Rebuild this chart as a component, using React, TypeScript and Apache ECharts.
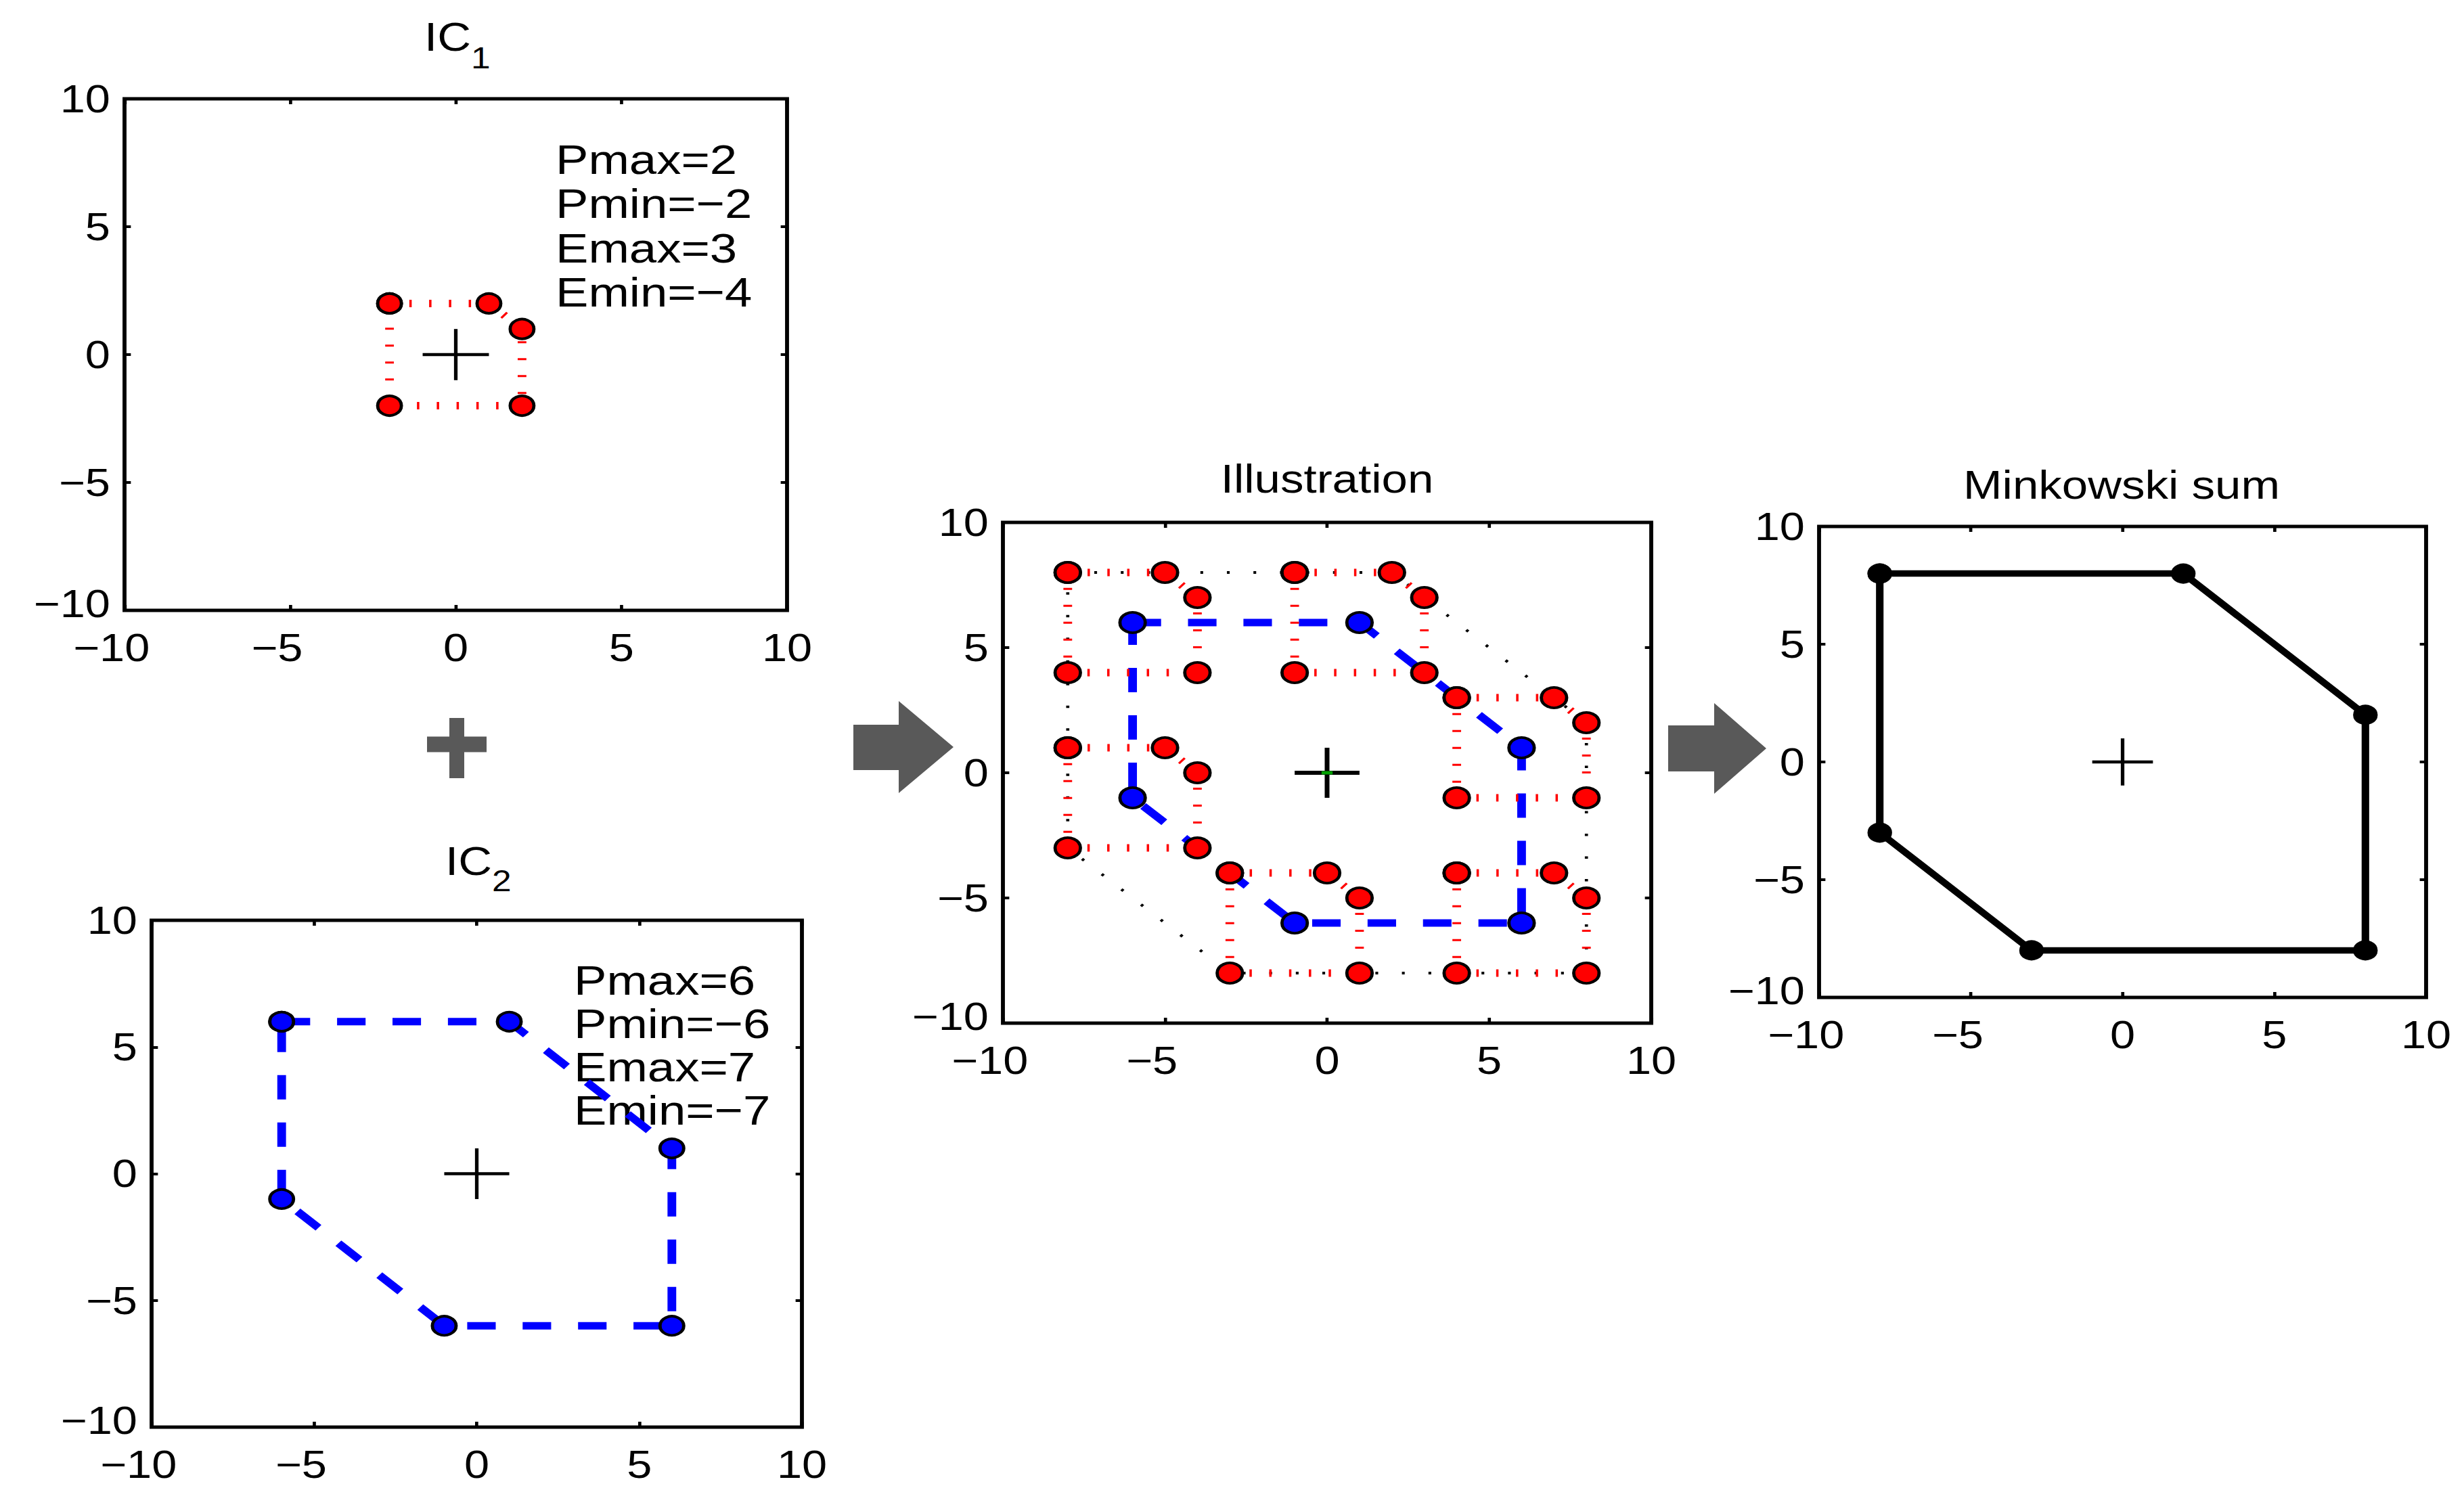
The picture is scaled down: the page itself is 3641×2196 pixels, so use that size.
import React, { useEffect, useRef } from "react";
import * as echarts from "echarts";

// ---------- data ----------
const AXIS_MIN = -10;
const AXIS_MAX = 10;
const AXIS_STEP = 5;

const IC1 = [[-2, 2], [1, 2], [2, 1], [2, -2], [-2, -2], [-2, 2]];
const IC2 = [[-6, 6], [1, 6], [6, 1], [6, -6], [-1, -6], [-6, -1], [-6, 6]];

const SHIFT_A = [[-8, 8], [-5, 8], [-4, 7], [-4, 4], [-8, 4], [-8, 8]];
const SHIFT_B = [[-1, 8], [2, 8], [3, 7], [3, 4], [-1, 4], [-1, 8]];
const SHIFT_C = [[4, 3], [7, 3], [8, 2], [8, -1], [4, -1], [4, 3]];
const SHIFT_D = [[4, -4], [7, -4], [8, -5], [8, -8], [4, -8], [4, -4]];
const SHIFT_E = [[-3, -4], [0, -4], [1, -5], [1, -8], [-3, -8], [-3, -4]];
const SHIFT_F = [[-8, 1], [-5, 1], [-4, 0], [-4, -3], [-8, -3], [-8, 1]];

const MINKOWSKI = [[-8, 8], [2, 8], [8, 2], [8, -8], [-3, -8], [-8, -3], [-8, 8]];

const CROSS_H = [[-1, 0], [1, 0]];
const CROSS_V = [[0, -1], [0, 1]];
const CENTER = [[0, 0]];

const TITLE_MAIN = ["IC", "IC", "Illustration", "Minkowski sum"];
const TITLE_SUB = ["1", "2"];
const IC1_TEXT = ["Pmax=2", "Pmin=−2", "Emax=3", "Emin=−4"];
const IC2_TEXT = ["Pmax=6", "Pmin=−6", "Emax=7", "Emin=−7"];

// ---------- layout (reference pixels) ----------
const W = 3112;
const H = 2196;
const S = 3641 / W; // horizontal stretch of the reference figure
const ux = (x: number) => x / S;
const FONT = "Liberation Sans";
const LH = 44;
const Y_MARGIN = 18;

const GRIDS = [
  { left: 184, right: 1163, top: 146, bottom: 902 },
  { left: 224, right: 1185, top: 1360, bottom: 2109 },
  { left: 1482, right: 2440, top: 772, bottom: 1512 },
  { left: 2688, right: 3585, top: 778, bottom: 1474 },
];

const fmtMinus = (v: number) => (v < 0 ? "−" + -v : String(v));

function buildAxes() {
  const xAxis: any[] = [];
  const yAxis: any[] = [];
  GRIDS.forEach((_, gi) => {
    const common = {
      type: "value",
      gridIndex: gi,
      min: AXIS_MIN,
      max: AXIS_MAX,
      interval: AXIS_STEP,
      splitLine: { show: false },
      axisLine: { show: false, onZero: false },
      axisTick: { show: true, inside: true, length: 8, lineStyle: { color: "#000", width: 4 } },
    };
    const tok = { fontSize: 57, fontFamily: FONT, color: "#000", lineHeight: LH };
    xAxis.push({
      ...common,
      position: "bottom",
      axisLabel: {
        show: true,
        margin: 33,
        color: "#000",
        fontSize: 57,
        lineHeight: LH,
        fontFamily: FONT,
        showMinLabel: true,
        showMaxLabel: true,
        formatter: (v: number) => (v < 0 ? `{m|−}{d|${-v}}{s| }` : `{d|${v}}`),
        rich: {
          m: tok,
          d: tok,
          s: { ...tok, width: 33 },
        },
      },
    });
    xAxis.push({ ...common, position: "top", axisLabel: { show: false } });
    yAxis.push({
      ...common,
      position: "left",
      axisLabel: {
        show: true,
        margin: Y_MARGIN,
        color: "#000",
        fontSize: 57,
        lineHeight: LH,
        fontFamily: FONT,
        showMinLabel: false,
        showMaxLabel: true,
        formatter: fmtMinus,
      },
    });
    yAxis.push({ ...common, position: "right", axisLabel: { show: false } });
  });
  return { xAxis, yAxis };
}

function poly(gi: number, data: number[][], line: any, marker: any, z: number) {
  return {
    type: "line",
    xAxisIndex: gi * 2,
    yAxisIndex: gi * 2,
    data,
    z,
    silent: true,
    clip: false,
    lineStyle: line,
    symbol: marker ? "circle" : "none",
    showSymbol: !!marker,
    symbolSize: marker ? marker.size : 0,
    itemStyle: marker
      ? { color: marker.color, borderColor: "#000", borderWidth: 4, opacity: 1 }
      : undefined,
  };
}

function cross(gi: number, width: number) {
  const ls = { color: "#000", width, type: "solid" };
  return [poly(gi, CROSS_H, ls, null, 6), poly(gi, CROSS_V, ls, null, 6)];
}

const RED_DOT = { type: [3, 22], width: 11, color: "#ff0000" };
const BLUE_DASH = { type: [36, 34], width: 11, color: "#0000ff" };

function buildSeries() {
  const series: any[] = [];
  // IC1
  series.push(poly(0, IC1, RED_DOT, { size: [30, 29], color: "#ff0000" }, 3));
  series.push(...cross(0, 4.5));
  // IC2
  series.push(poly(1, IC2, BLUE_DASH, { size: [30, 28], color: "#0000ff" }, 3));
  series.push(...cross(1, 4.5));
  // Illustration
  series.push(poly(2, MINKOWSKI, { type: [3.5, 30], width: 4, color: "#000" }, null, 1));
  series.push(poly(2, IC2, BLUE_DASH, null, 2));
  [SHIFT_A, SHIFT_B, SHIFT_C, SHIFT_D, SHIFT_E, SHIFT_F].forEach((d) => {
    series.push(poly(2, d, RED_DOT, { size: [32, 30], color: "#ff0000" }, 3));
  });
  series.push({
    type: "scatter",
    xAxisIndex: 4,
    yAxisIndex: 4,
    data: IC2.slice(0, IC2.length - 1),
    z: 4,
    silent: true,
    symbol: "circle",
    symbolSize: [32, 30],
    itemStyle: { color: "#0000ff", borderColor: "#000", borderWidth: 4, opacity: 1 },
  });
  series.push(...cross(2, 6));
  series.push({
    type: "scatter",
    xAxisIndex: 4,
    yAxisIndex: 4,
    data: CENTER,
    z: 7,
    silent: true,
    symbol: "rect",
    symbolSize: [14, 5],
    itemStyle: { color: "#00a000", opacity: 1 },
  });
  // Minkowski sum
  series.push(
    poly(3, MINKOWSKI, { type: "solid", width: 9.5, color: "#000" }, { size: [27, 26], color: "#000" }, 3)
  );
  series.push(...cross(3, 4.5));
  return series;
}

function txtU(x: number, y: number, text: string, size: number, align: string) {
  return {
    type: "text",
    x,
    y,
    silent: true,
    style: {
      text,
      fill: "#000",
      fontSize: size,
      fontFamily: FONT,
      textAlign: align,
      textVerticalAlign: "middle",
      align,
      verticalAlign: "middle",
    },
  };
}
const txt = (x: number, y: number, text: string, size: number, align: string) =>
  txtU(ux(x), y, text, size, align);

function arrow(x0: number, x1: number, x2: number, yb0: number, yb1: number, yh0: number, yh1: number) {
  const yt = (yh0 + yh1) / 2;
  return {
    type: "polygon",
    silent: true,
    shape: {
      points: [
        [ux(x0), yb0],
        [ux(x1), yb0],
        [ux(x1), yh0],
        [ux(x2), yt],
        [ux(x1), yh1],
        [ux(x1), yb1],
        [ux(x0), yb1],
      ],
    },
    style: { fill: "#595959" },
  };
}

function buildGraphic() {
  const g: any[] = [];
  g.push(arrow(1261, 1328, 1409, 1071, 1138, 1036, 1172));
  g.push(arrow(2465, 2533, 2610, 1072, 1140, 1039, 1173));
  // plus sign between IC1 and IC2
  g.push({ type: "rect", silent: true, shape: { x: ux(631), y: 1088.5, width: ux(719) - ux(631), height: 23 }, style: { fill: "#595959" } });
  g.push({ type: "rect", silent: true, shape: { x: ux(664), y: 1061, width: ux(686) - ux(664), height: 89 }, style: { fill: "#595959" } });
  // titles
  g.push(txt(696, 55, TITLE_MAIN[0], 59, "right"));
  g.push(txt(696, 86, TITLE_SUB[0], 44, "left"));
  g.push(txt(727, 1273, TITLE_MAIN[1], 59, "right"));
  g.push(txt(727, 1302, TITLE_SUB[1], 44, "left"));
  g.push(txt(1961, 708, TITLE_MAIN[2], 59, "center"));
  g.push(txt(3135, 717, TITLE_MAIN[3], 59, "center"));
  // annotations
  const y1 = [235.5, 300, 366, 431];
  IC1_TEXT.forEach((t, i) => g.push(txt(821, y1[i], t, 62, "left")));
  const y2 = [1448, 1512, 1576, 1640];
  IC2_TEXT.forEach((t, i) => g.push(txt(848, y2[i], t, 62, "left")));
  // lowest y tick label of each panel, lifted slightly to clear the x tick label
  GRIDS.forEach((gr) => {
    g.push(txtU(ux(gr.left) - Y_MARGIN, gr.bottom - 10, fmtMinus(AXIS_MIN), 57, "right"));
  });
  return g;
}

export default function App() {
  const ref = useRef<HTMLDivElement>(null);
  useEffect(() => {
    document.body.style.margin = "0";
    document.body.style.overflow = "hidden";
    const chart = echarts.init(ref.current!, undefined, { renderer: "svg" });
    const { xAxis, yAxis } = buildAxes();
    chart.setOption({
      animation: false,
      backgroundColor: "#ffffff",
      grid: GRIDS.map((g) => ({
        show: true,
        left: ux(g.left),
        top: g.top,
        width: ux(g.right) - ux(g.left),
        height: g.bottom - g.top,
        borderColor: "#000",
        borderWidth: 5,
        backgroundColor: "transparent",
        containLabel: false,
      })),
      xAxis,
      yAxis,
      series: buildSeries(),
      graphic: buildGraphic(),
    });
    return () => chart.dispose();
  }, []);
  return (
    <div
      ref={ref}
      style={{
        position: "absolute",
        left: 0,
        top: 0,
        width: W,
        height: H,
        transform: `scaleX(${S})`,
        transformOrigin: "0 0",
        background: "#fff",
      }}
    />
  );
}
